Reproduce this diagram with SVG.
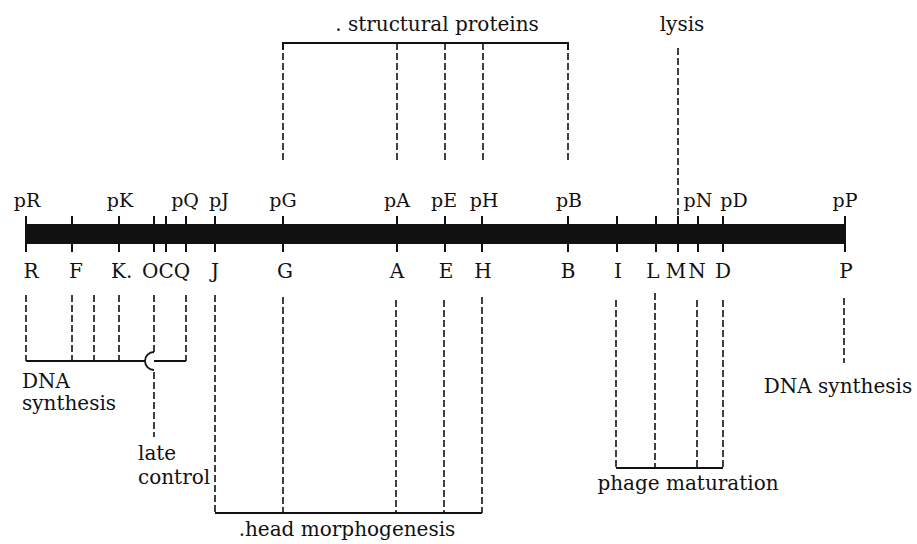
<svg xmlns="http://www.w3.org/2000/svg" width="917" height="544" viewBox="0 0 917 544">
<style>
text{font-family:"DejaVu Serif","Liberation Serif",serif;font-size:20px;fill:#111}
.lab{text-anchor:middle}
.top{font-size:19px;text-anchor:middle}
.dash{stroke:#111;stroke-width:1.6;stroke-dasharray:7 3;fill:none}
.solid{stroke:#111;stroke-width:1.8;fill:none}
.tick{stroke:#111;stroke-width:2}
</style>
<rect width="917" height="544" fill="#fff"/>
<g id="chromosome">
<rect x="26" y="224" width="819" height="20" fill="#111"/>
<g class="tick">
<line x1="26" y1="216" x2="26" y2="252"/><line x1="72" y1="216" x2="72" y2="252"/>
<line x1="119" y1="216" x2="119" y2="252"/><line x1="154" y1="216" x2="154" y2="252"/>
<line x1="166" y1="216" x2="166" y2="252"/><line x1="186" y1="216" x2="186" y2="252"/>
<line x1="215" y1="216" x2="215" y2="252"/><line x1="283" y1="216" x2="283" y2="252"/>
<line x1="397" y1="216" x2="397" y2="252"/><line x1="445" y1="216" x2="445" y2="252"/>
<line x1="482" y1="216" x2="482" y2="252"/><line x1="568" y1="216" x2="568" y2="252"/>
<line x1="617" y1="216" x2="617" y2="252"/><line x1="656" y1="216" x2="656" y2="252"/>
<line x1="678" y1="216" x2="678" y2="252"/><line x1="698" y1="216" x2="698" y2="252"/>
<line x1="723" y1="216" x2="723" y2="252"/><line x1="845" y1="216" x2="845" y2="252"/>
</g>
</g>
<g id="promoters">
<text class="top" x="27" y="207">pR</text><text class="top" x="120" y="207">pK</text>
<text class="top" x="185" y="207">pQ</text><text class="top" x="219" y="207">pJ</text>
<text class="top" x="283" y="207">pG</text><text class="top" x="397" y="207">pA</text>
<text class="top" x="444" y="207">pE</text><text class="top" x="484" y="207">pH</text>
<text class="top" x="569" y="207">pB</text><text class="top" x="698" y="207">pN</text>
<text class="top" x="734" y="207">pD</text><text class="top" x="845" y="207">pP</text>
</g>
<g id="genes">
<text class="lab" x="31" y="278">R</text><text class="lab" x="76" y="278">F</text>
<text x="111" y="278">K.</text>
<text x="142" y="278">OCQ</text>
<text class="lab" x="215" y="278">J</text>
<text class="lab" x="285" y="278">G</text><text class="lab" x="397" y="278">A</text>
<text class="lab" x="446" y="278">E</text><text class="lab" x="483" y="278">H</text>
<text class="lab" x="568" y="278">B</text><text class="lab" x="618" y="278">I</text>
<text class="lab" x="653" y="278">L</text><text class="lab" x="676" y="278">M</text>
<text class="lab" x="697" y="278">N</text><text class="lab" x="723" y="278">D</text>
<text class="lab" x="846" y="278">P</text>
</g>
<g id="connectors">
<path class="solid" d="M283,50 V43 H568 V50"/>
<path class="dash" d="M283,43 V163 M397,43 V163 M445,43 V163 M483,43 V163 M568,43 V163"/>
<path class="dash" d="M678,48 V216"/>
<path class="dash" d="M26,295 V361 M72,295 V361 M94,295 V361 M119,295 V361 M186,295 V361 M154,295 V352 M154,372 V437"/>
<path class="solid" d="M26,361 H145 M154,361 H186 M154,352 A9,9 0 0 0 154,370"/>
<path class="dash" d="M215,295 V513 M283,297 V513 M396,300 V513 M444,300 V513 M482,297 V513"/>
<path class="solid" d="M215,513 H482"/>
<path class="dash" d="M616,300 V468 M655,293 V468 M697,300 V468 M723,300 V468"/>
<path class="solid" d="M616,468 H723"/>
<path class="dash" d="M844,298 V363"/>
</g>
<g id="labels">
<text x="437" y="31" text-anchor="middle">. structural proteins</text>
<text x="682" y="31" text-anchor="middle">lysis</text>
<text x="22" y="388">DNA</text>
<text x="22" y="410">synthesis</text>
<text x="138" y="460">late</text>
<text x="138" y="484">control</text>
<text x="347" y="536" text-anchor="middle">.head morphogenesis</text>
<text x="688" y="490" text-anchor="middle">phage maturation</text>
<text x="838" y="393" text-anchor="middle">DNA synthesis</text>
</g>
</svg>
